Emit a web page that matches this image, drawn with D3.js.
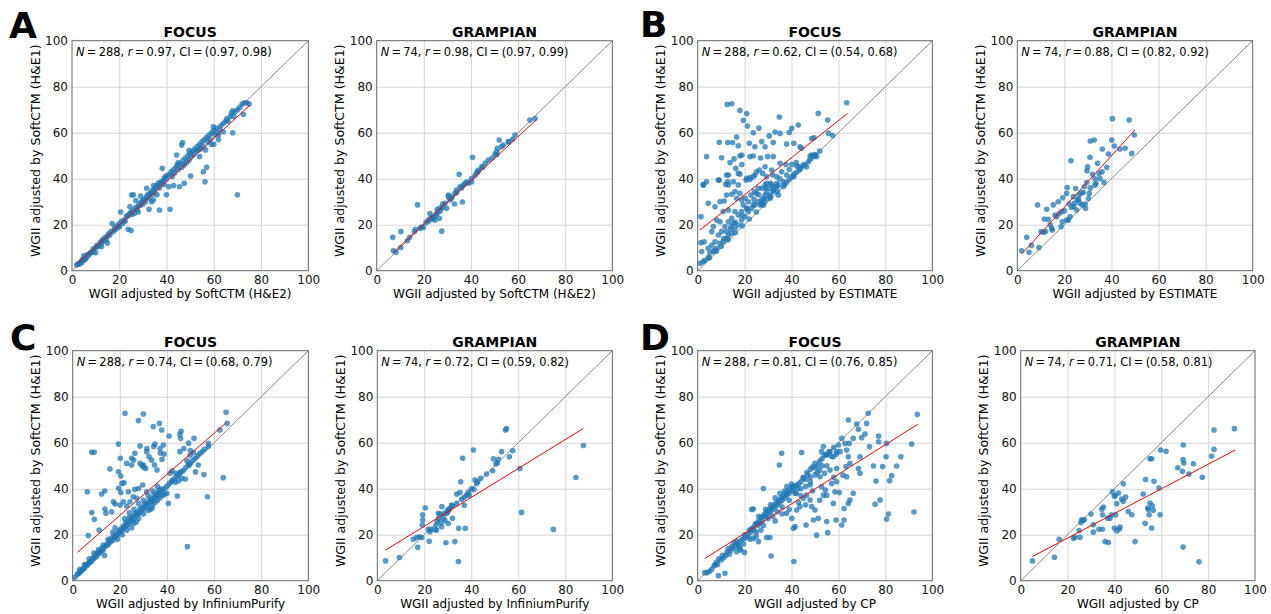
<!DOCTYPE html>
<html><head><meta charset="utf-8">
<script src="https://cdn.jsdelivr.net/npm/d3@7"></script>
<style>body{margin:0;background:#fff} svg{display:block} text{font-family:"DejaVu Sans",sans-serif}</style>
</head><body><svg id="c" width="1271" height="614"></svg>
<script>
const cohorts = ["FOCUS","GRAMPIAN"];
const methods = ["SoftCTM (H&E2)","ESTIMATE","InfiniumPurify","CP"];
const panelLetters = ["A","B","C","D"];
const yLabelText = "WGII adjusted by SoftCTM (H&E1)";
const tickValues = [0,20,40,60,80,100];
const gridValues = [20,40,60,80];
const nValues = [288,74,288,74,288,74,288,74];
const rValues = [0.97,0.98,0.62,0.88,0.74,0.72,0.81,0.71];
const ciLow = [0.97,0.97,0.54,0.82,0.68,0.59,0.76,0.58];
const ciHigh = [0.98,0.99,0.68,0.92,0.79,0.82,0.85,0.81];
// regression line end points [x1,y1,x2,y2]
const fitLines = [[2.3,3.2,75.3,72],[7.4,8.3,67.9,65.8],[1,17.7,63.9,68.4],[2.1,7.5,50,61.2],[2,12.3,65.3,68.8],[3.5,13.3,87.7,66.2],[3.1,9.7,93.8,68],[5,10.5,91.5,56.8]];

const pointsAFocus = [[2,2.5],[2.5,3],[3,2.8],[3.5,3.5],[4,4.2],[4,3.5],[4.5,5],[5,4.5],[5,6.5],[5.5,5],[6,6.2],[6,5.5],[6.5,7],[7,6.5],[7.5,7.5],[8,8],[8.5,8],[9,9.5],[9,8.5],[10,7.8],[10,10],[10.5,11],[11,10.5],[11.5,11],[12,12.5],[12.5,12],[12.5,10.5],[13,13.5],[13.5,13],[14,14.5],[14.5,13.5],[15,12],[15,15],[15.5,16],[16,15.5],
[16.5,17],[17,20.5],[17.5,17],[18,18.5],[18.5,18],[19,19.5],[19.5,19],[20,20.5],[20,19],[20.6,25.5],[21,21.5],[21.5,20.5],[22,22],[22.5,21.5],[23,23.5],[23.5,24],[23.8,18],[24,24],[24.5,25],[24.5,27.8],[25,17.5],[25,25.5],[25.2,32.9],[25.5,24.5],[26,33],[26,26.5],[26.5,25],[27,27.5],[27,30.5],[27.5,26.5],[28,28],[28,25.5],[28.5,29],[29,28.5],[29,32.5],[29.5,30],[30,30.5],[30,29],[30.5,31],[31,30],[31.6,35.8],[31.5,32],[32,33],[32.6,26.7],[32.5,31.5],[33,33.5],[33.7,30],[33.5,34],[34,35],[34,33],[34.4,30.7],[34.5,37],[35,35.5],[35,34],[35.5,36.5],[36,37],[36,33],[36.5,38],[37,26.4],[37,36],[37.5,38.5],[38,38],[38.2,44.5],[38.5,39],[39,37.5],[39,40],[39.5,41],[40,40],[40,33],[40.5,41.5],[41,36.5],[41.5,26.7],[41.5,42],
[42,43],[42.5,41],[43,44],[43,37],[43.5,42.5],[44,45],[44.3,50.3],[44.5,46],[45,44],[45,47],[45.5,36.5],[46,46.5],[46.4,54.6],[46.8,55.7],[46.5,45],[47,48],[47.5,38],[47.5,46],[48,49],[48.5,47],[49,50],[49.5,52.2],[49.5,48],[50,51],[50.2,41.2],[50.5,49.5],[51,52],[51.5,50.5],[52,53],[52.5,52],[53,54],[53.5,52.5],[54,55],[54,49.6],[54.5,53],[55,56],[55.6,43],[55.5,54],[56,57],[56.3,38.7],[56.5,52.5],[57,45],[57,58],[57.5,56],[58,59],[58.5,57],[59,60],[59,55],[59.8,62.6],[60,61],[60,55],[60.5,59],[61,62],[61.5,60],[62,57],[62,59],[62.5,61.5],[63,63],
[64,60.4],[64,64],[65,65],[65.5,66],[66,65],[67,67],[67.5,68.5],[68,69.5],[68,60],[68.5,67],[69,69],[70,33],[70,70],[71,71],[72,72.5],[72.5,68],[73,73],[74,73],[75,72.5]];

const pointsAGrampian = [[6.8,14.5],[7.1,8.7],[8.2,8],[10.3,17],[10.2,10.1],[13,13],[14,14.5],[16,17],[16.5,18],[17.3,28.6],[18.4,18.4],[19,19],[19.8,18.8],[20.9,20.9],[21.9,22],[22,21.5],[22.6,24.9],[23,23],[23.3,22.7],[24,23.5],[24,22.5],[24.8,22],[25,24],[25.5,24.9],[25.7,26.7],[26,25.5],[26.6,22.8],[26.9,27.2],[27,26],[27.6,17.2],[28,29],[28,27.5],[29,29.3],[29.7,27.1],[30.4,32.2],[30.5,32.9],[31.1,30.7],[31.5,31.4],[32,32],[33,29],[33.2,33.6],[33.9,35.1],[34,34],[35,41.9],[35.4,36.5],[36,36],[36.4,29.9],[36.8,37.2],[37.5,38],[38.2,38.7],[39,38],[40.3,38.7],[40.3,40.1],[40.7,49.3],[41.7,41.4],[42.4,42.6],[43,43],[43.1,43.8],[44.6,45.2],[45,45],[46,46.7],[47.4,48.1],[49,49],[50.2,50.7],[50.9,51.7],[51,50.5],[51.2,53.2],[52,56.8],[53,54],[53.7,54.6],[55.9,56.1],[56,56],[57.7,57.1],[58.7,59],[65,65.5],[67.2,66.2]];

const pointsBFocus = [[12.6,72.3],[14.5,72.6],[18,69.7],[20.9,68.3],[19.5,65.4],[21.2,62.9],[26.1,62],[34.8,66.8],[40.1,61.9],[42.9,63.3],[51.4,68.4],[63.5,73],[55.4,65.5],[55.7,59.7],[57.5,58.8],
[9.2,55.8],[12.8,55.7],[14.9,55.7],[17.3,54.3],[16.6,58.1],[23.7,60],[30.5,58.6],[33,60.3],[35.1,59.7],[39,60.1],[41,55.4],[37.9,55.1],[32.2,55.7],[27.3,56.1],[24.4,53.9],[22,55.4],[28.7,53.9],[43.6,53.9],[44.3,53.2],[48.6,57.5],[49.6,57.8],
[3.8,49.6],[10.2,49.1],[13.8,47],[15.5,48.6],[18,49.9],[18.8,50.3],[22.3,49.6],[23.7,49.9],[26.8,49],[29.8,49.6],[32.2,49.6],[28.7,45.2],[31.5,43.8],[35.1,46.7],[37.6,46.2],[40.1,46.2],[42.2,45.5],[43.3,45.2],[45.7,46.2],[47.9,49.9],[48.6,50.3],[50,50.1],[50.7,49.6],
[9.2,39.4],[12.8,38.7],[2.4,37.2],[3.8,38.7],[13.1,41.6],[16.2,44.5],[18.8,46.2],[18,42],[20.6,39.4],[22.3,39.7],[23.7,40.9],[25.1,43],[26.3,43.8],[27.7,42.3],[29.4,40.9],[32,41.6],[33.7,40.9],[35.8,43],[36.5,38.7],[37.9,41.6],[34.4,37.2],
[1,3.2],[2.4,3.9],[1.7,8.3],[1.4,12.2],[2.8,12.6],[4.5,9.7],[5.2,7.6],[4.5,5.7],[6.7,8.3],[8.1,9.7],[9.5,11.9],[10.9,12.6],[12.3,14.1],[13.1,15.5],[14.5,16.3],[15.9,18.4],[17.3,19.9],[18.7,22],[20.2,23.5],[21.6,25.7],[23,27.1],[24.4,28.6],[25.8,30],[27.3,30.7],[28.7,32.9],[29.4,34.4],
[1.4,23.5],[2.4,37.6],[4.5,29.3],[8.8,39.4],[12.3,41.6],[11.9,37.6],[7.4,27.8],[9.5,30],[11.3,30.3],[12.3,32.9],[14.5,33.2],[15.9,34.4],[16.6,31.5],[18,33.6],[17.3,37.3],[17.3,42.3],[20.9,40.2],[22.3,40.5],[24.4,41.6],[22.7,32.9],[24.1,34.4],[25.1,33.6],[25.8,35.8],[27.3,35.8],[28.7,37.3],[29.4,38],[30.8,35.8],[31.5,37.3],[32.2,35.1],[32.9,36.5],[33.7,38],[34.4,32.9],[30.8,32.9],[28,31.5],[26.6,28.6],[23.7,28.6],[21.6,30],[20.9,27.1],[19.4,28.6],[18.7,25.7],[17.3,24.2],[15.9,25.7],[14.5,22.8],[13.1,21.3],[11.6,19.2],[10.2,17],[8.8,15.5],[7.4,12.6],[6,11.2],[14.2,19.2],[12.3,17],[15.2,20.6],[20.2,31.5],[18.7,30.7],[13.1,26.4],[10.9,25.7],[8.1,22],[9.5,21.3],[6.7,19.2],[6,17],[13.1,37.3],[15.2,38.7],
[36.5,36.5],[37.9,38.3],[39,39.7],[40.1,40.9],[41,42],[42.2,42.8],[43.3,43.8],[45,45.9],[46.4,45.2],[33.7,36.5],[32.2,34.3],[30.8,32.2],[29.4,31.2],[28.3,30],[27.3,29],[47.2,47.4],[49.3,49.6],
[5,5.5],[8,8.5],[10,10.5],[13,13.5],[16,16.5],[19,19.5],[22,22.5],[25,25.5],[28,28.5],[31,31.5],[34,34.5],[37,37.5],[41,41],[44,44.5],[48,48.5],[50,50.5],[52,52],[3,4.5],[7,9],[11,14],[14,18],[16,21],[19,24],[21,27],[24,31],[26,33],[29,36],[31,38],[35,40],[39,44],[42,47]];

const pointsBGrampian = [[1.8,8.7],[4,14.5],[5,8],[6,11],[8.6,28.6],[9.2,10.1],[10.1,17],[11,16.7],[11.5,22.5],[12,17],[12.5,26.7],[13.2,22.3],[14,20],[14.6,18.4],[14.9,17.7],[15.3,28.6],[16,24.2],[16.7,23.5],[17.4,30],[17.8,24.9],[18.6,19.1],[18.8,25.7],[19.1,21.3],[19.3,31.7],[20,26],[21,33.6],[21,22],[21.2,36.2],[21.7,22],[22,29],[22.4,23.5],[22.8,47.8],[23.1,27.5],[23.8,32.2],[24,28],[24.2,29.3],[24.8,35.7],[25.2,26.4],[25.6,30.7],[26,31],[26.2,32.9],[26.6,29.3],[27.3,33.9],[27.6,28.6],[28,34],[28.5,36.5],[28.8,29],[29,27.1],[29.5,38.3],[29.6,43.5],[29.9,45.2],[30.2,31.4],[30.6,33.6],[30.9,49.3],[31,56.4],[31,36],[32,41.9],[32.7,56.8],[33,37.2],[33,40],[33.4,38],[34.1,46.7],[34.7,42.3],[35.1,40.1],[36,43],[36.1,52.9],[36.8,38.4],[38,45],[38.7,50.7],[40.1,56.8],[40.4,66.1],[41.2,54.2],[43.6,52.9],[45.8,53.2],[47.5,65.5],[48.6,51],[49.7,59]];

const pointsCFocus = [[22.2,72.8],[30,72.5],[27.9,69.6],[36.8,68.4],[34.2,67],[37.8,65.5],[65.1,73.2],[65.6,68.4],[62.5,65.5],[40.9,62.9],[45.5,63.6],[45.8,61.9],[46,65],[51.5,61.9],[57.6,59.7],[57.6,58.3],[19.4,59.4],[8.1,55.8],[9.1,55.8],[28.6,58.6],[31.4,56.1],[32.4,53.9],[33.5,52.5],[26.4,55.4],[25,53.2],[22.9,51],[15.8,48.6],[19.4,47.4],[20.4,45.5],[21.8,42.6],[25,50.3],[28.6,51],[30,50.3],[31,48.8],[34.7,50.3],[35.8,48.1],[37.9,52.8],[38.8,55.1],[37.1,57.5],[38.5,59],[34.9,59.4],[41.3,46.7],[43.8,46.7],[46.3,44.5],[45.5,56.1],[47.2,57.5],[49.8,54.6],[51.2,55.7],[49.5,50.3],[53.3,50.3],[55.7,46.2],[57.2,36.5],[63.9,44.8],[44.4,36.8],[40.6,33.6],[48.7,14.8],[6.2,38.7],[12.3,37.7],[13.6,39],[8.1,29.6],[9.2,26.7],[6.6,19.6],[11.2,22],[13.7,31.2],[14.1,29.3],[17.3,34.3],[18,33.3],[16.5,30],[20.4,38.3],[23.6,38.7],[26.4,39.7],[27.9,40.1],[29.7,41.6],[31.4,38.7],[20.1,32.9],[21.5,34.3],[22.9,32.5],[24.3,34.3],[25.7,36.5],[27.2,35.8],
[20.2,53.2],[19.5,40.2],[20.9,42.3],[25.9,52.5],[29.4,50.1],[30.1,49.4],[31.5,57.5],[34.4,58.4],[37.2,55.5],[42.2,47.8],[47.8,44.2],[52.1,47.3],[42.2,43.5],[43.6,42.8],[45,43.5],[45.7,47.1],[48.5,52.2],[49.9,56.6],[49.2,59.8],[33.7,31.6],
[1,1.5],[2,2.8],[2.5,3.2],[3,3.6],[3.5,4.2],[4,4.6],[4.5,5.3],[5,5.4],[5.5,6.9],[6,6.5],[6.5,7.3],[7,7.9],[7.5,8.2],[8,8.4],[8.5,9.8],[9,9.6],[9.5,10.8],[10,10.4],[10.5,12.2],[11,11.6],[11.5,12.3],[12,12.9],[12.5,14.3],[13,13.4],[13.5,11],[14,15.1],[14.5,15.8],[15,15.6],[15.5,17.2],[16,16.8],[16.5,18.4],[17,17.6],[17.5,19.3],[18,18.9],[18.5,20.3],[19,19.8],[19.5,21.7],[20,21.1],[20.5,22.6],[21,21.9],[21.5,23.8],[22,23.2],[22.5,25.3],[23,24.1],[23.5,25.7],[24,24.9],[24.5,26.8],[25,26.2],[25.5,28.1],[26,27.1],[26.5,29.2],[27,28.3],[27.5,29.7],[28,29.1],[28.5,31.2],[29,30.2],[29.5,31.8],[30,31.1],[30.5,33.2],[31,32.3],[31.5,33.8],[32,33.1],[32.5,35.3],[33,34.2],[33.5,35.7],[34,35.1],[34.5,37.2],[35,36.3],[35.5,37.9],[36,37.2],[36.5,39.1],[37,38.2],[37.5,39.8],[38,39.3],[39,40.2],[40,41.1],[41,42.3],[42,43.1],[43,44.2],[44,45.4],[45,46.1],[46,47.3],[47,47.9],[48,49.2],[49,50.4],[50,51.1],[51,52.4],[52,53.2],[53,54.3],[54,55.4],[55,56.2],[56,57.1],
[24,27.5],[26,25],[28,27],[30,29],[32,30.5],[33,31],[34,33],[35,34],[36,35],[37,36],[38,37],[39,37.5],[40,38],[25,23],[27,25.5],[23,22],[21,20],[19,18],[3,5],[5,7],[7,9.5],[9,12],[11,13.5],[13,15.5],[15,18],[17,21],[18,23],[22,27],[24,29.5],[26,31],[28,33.5],[30,35],[32,37],[34,39],[36,41]];

const pointsCGrampian = [[3.5,8.6],[9.4,10.1],[15.3,18],[16.7,18.8],[17.2,14.5],[17.9,19.1],[18.9,18.8],[19.1,24.2],[19.3,26.4],[19.3,28.6],[20.4,31.7],[21.7,22.3],[22.1,17.1],[22.4,21.3],[22.8,22.3],[24.5,22.3],[25,24.2],[25.2,22],[25.5,25.7],[26,27.1],[26,29.3],[26.7,29],[27,25.2],[27.4,23.5],[27.5,32.2],[28.1,27.1],[28.4,29.3],[28.8,26.1],[29.2,16.5],[29.5,29.3],[29.9,30.7],[30,30],[30.2,24.9],[30.6,31],[30.9,31.4],[31.6,32.9],[32,27.1],[32,32.5],[33,17],[33.8,33.6],[33.8,37.7],[34.5,8.3],[34.6,22.8],[35.2,38.3],[35.5,43],[35.9,35.4],[36.3,53.2],[36.9,36.2],[37,32.8],[37.4,22.8],[38,37.2],[38.7,38.4],[39.1,37.2],[40,40],[40.9,56.8],[41.1,39.7],[41.6,43.8],[42.3,42.3],[42.7,43],[44,44.5],[46.5,46.4],[49.1,47.8],[49.4,53],[50.5,50.7],[51.1,51.3],[51.5,52.8],[52.9,56.1],[54.5,65.5],[55,66.1],[56.2,53.9],[57.6,56.5],[60.7,48.8],[61.4,29.7],[74.9,22.3],[84.5,44.9],[87.7,58.8]];

const pointsDFocus = [[93.6,72.3],[91.2,59.4],[92.2,29.9],[86.6,53.9],[84.8,49.9],[82.7,45.7],[81.8,43.5],[81.3,29],[80.5,26.8],[80.3,53.9],[80.5,59.7],[78.8,49.6],[77.7,35.1],[76,43.3],[75.6,33.2],[74.9,49.9],[77.1,62.9],[77.1,60.4],[73.2,58.3],[72.7,72.8],[72,68.4],[71.3,63.8],[69.9,62.2],[68.5,65.8],[67.8,68.1],[64.2,69.9],[64.6,59.7],[66.3,61.9],[69.2,53.9],[68.5,48.8],[69.2,46.7],[66.3,38],[64.2,33.6],[64.9,35.1],[62.4,31.4],[62.4,26.4],[61.4,24.2],[60.4,38.3],[58.5,38.7],[59,26.4],[57.8,33.6],[55,25.7],[55.4,20.9],[50.7,19.8],[51.4,27.1],[49.3,26.4],[46.2,24.2],[41.5,23.5],[40.8,22.8],[41,8.3],[31.3,10.7],[37.9,29.3],[40.1,27.1],[42.2,30.7],[43.6,32.2],[45,35.8],[46.4,37.2],[47.9,35.1],[48.6,32.2],[50,30.7],[47.9,41.6],[45,44.5],[44.3,55.7],[52.8,56.1],[53.6,58.3],[55,54.6],[56.4,56.1],[57.8,53.9],[59.2,56.1],[60.7,56.1],[61.4,61.9],[62.8,59.7],[63.5,56.8],[64.2,53.9],[64.9,51],[63.2,49.6],[61.9,45.9],[59.2,48.8],[56.4,48.1],[54.1,46.7],[52.1,45.2],[52.8,40.9],[54.4,39.4],[53.6,37.2],[55,37.2],[57.1,42.3],[59.2,43],[63.5,45.2],[34.8,50.3],[35.8,55.4],[28,40.1],[23,31],[23.7,31.2],[16.6,12.6],[8.8,2.2],[11.6,3.2],[18.3,13.3],[19.9,12.3],[22.3,18],[23.7,18.4],[24.9,19.1],[25.9,17],[29.4,18.8],[30.8,18.8],
[3,3.5],[4,3.5],[5,4],[6,5],[7,6.5],[7.5,7],[8,8],[8.5,7],[9,9.5],[10,9],[10.5,11],[11,10],[12,11],[12.5,12.5],[13,14],[13.5,11.5],[14,13],[14.5,15],[15,14],[15.5,16.5],[16,15],[16.5,17],[17,16],[17.5,15],[18,17],[18,14],[19,18],[19.5,16],[20,18.5],[20,20],[21,20],[21.5,19],[22,22],[22.5,21],[23,22.5],[23.5,23],[24,22],[24.5,24.5],[25,25],[25,21],[25.5,24],[26,26],[26.5,25],[27,27.5],[27.5,26],[28,28],[28,24],[28.5,29],[29,28],[29.5,30],[30,29],[30,27],[30.5,31],[31,30],[31.5,32],[32,31],[32,28],[32.5,33],[33,32],[33.5,34],[34,33],[34,30],[34.5,35],[35,34],[35.5,36],[36,35],[36,32],[36.5,37],[37,36],[37.5,38],[38,37],[38.5,39],[39,38],[39,35],[39.5,40],[40,39],[40.5,41],[41,40],[41.5,38],[42,41.5],[42.5,40],[43,42],[44,43],[44,40],[45,45],[46,44],[46.5,47],[47,46],[48,48.5],[48,45],[49,49.5],[50,49],[50,51],[51,50],[52,52],[52,48],[53,53],[54,54.5],[55,55],[55,50],[56,56],[57,54],[58,58],[59,55],[60,59],
[26,28],[29,31],[31,33],[33,36],[35,38],[37,39],[38,41],[40,42],[42,38],[44,37],[46,41],[48,43],[50,46],[51,47],[53,50],[27,22],[33,26],[36,29],[39,31],[43,34],[46,33],[49,39],[52,35],[58,45]];

const pointsDGrampian = [[5,8.6],[14.4,10.2],[16.4,18],[22.5,18.5],[23.2,18.9],[25.3,18.9],[24.9,21.8],[25.7,25.3],[26,26.5],[26.5,26.2],[27.2,26.5],[30,29],[31,24.3],[31,21.1],[33.4,22.4],[34.6,31.1],[35.3,32],[34.9,28.7],[34.9,22.4],[36,17],[37.4,16.6],[37.1,27.2],[38.1,27.2],[38.8,28.7],[39.1,38.6],[40,36.7],[40.3,37],[40,22.9],[40.5,28.7],[41,21.7],[41.7,38.1],[41,33.5],[42,22.4],[42.4,23.3],[43.1,35.5],[43.8,42.1],[43.8,34.5],[44.8,36.4],[45.9,30.1],[47.4,28.7],[48.8,17],[52.3,37.7],[53.1,25],[53.3,44],[54.2,31.6],[54.5,30.9],[54.8,28.7],[55.2,53],[55.9,53],[55.2,33.8],[56.2,32.6],[55.9,22.9],[56.6,30.6],[56.9,43.2],[59,40.3],[59.5,28.7],[59.7,56.8],[62,56.3],[67,49.1],[69,47.6],[69.3,52.7],[69.4,59],[69.6,51.2],[69.3,14.6],[71.8,46.4],[73.7,50.8],[76.1,8.2],[77.5,45],[81.5,54.1],[82.5,57.1],[82.5,65.5],[91.2,66.1]];

const panelPoints = [pointsAFocus,pointsAGrampian,pointsBFocus,pointsBGrampian,pointsCFocus,pointsCGrampian,pointsDFocus,pointsDGrampian];

// layout (pixel frames of each axes)
const frames = [
  [72,308.3,40.7,270.7],[376.7,612.3,40.7,270.7],[697.7,932.3,40.7,270.7],[1017.3,1252.7,40.7,270.7],
  [72.7,308.3,350.7,580.7],[377.3,612.3,350.7,580.7],[697.7,932.3,350.7,580.7],[1020.7,1255,350.7,580.7]
];
const letterPos = [[9,38],[640,37],[10,350],[640,350]];

const svg = d3.select("#c");
svg.append("rect").attr("width",1271).attr("height",614).attr("fill","#fff");

panelPoints.forEach((pts,i)=>{
  const [l,r,t,b] = frames[i];
  const x = d3.scaleLinear().domain([0,100]).range([l,r]);
  const y = d3.scaleLinear().domain([0,100]).range([b,t]);
  const g = svg.append("g");
  g.append("g").attr("transform",`translate(0,${b})`)
    .call(d3.axisBottom(x).tickValues(gridValues).tickSize(-(b-t)).tickFormat(""))
    .call(s=>{s.select(".domain").remove(); s.selectAll("line").attr("stroke","#d6d6d6").attr("stroke-width",1);});
  g.append("g").attr("transform",`translate(${l},0)`)
    .call(d3.axisLeft(y).tickValues(gridValues).tickSize(-(r-l)).tickFormat(""))
    .call(s=>{s.select(".domain").remove(); s.selectAll("line").attr("stroke","#d6d6d6").attr("stroke-width",1);});
  g.append("line").attr("x1",x(0)).attr("y1",y(0)).attr("x2",x(100)).attr("y2",y(100))
    .attr("stroke","#8c8c8c").attr("stroke-width",1);
  g.append("g").selectAll("circle").data(pts).join("circle")
    .attr("cx",d=>x(d[0])).attr("cy",d=>y(d[1])).attr("r",2.8)
    .attr("fill","#1f77b4").attr("fill-opacity",0.75);
  const f = fitLines[i];
  g.append("line").attr("x1",x(f[0])).attr("y1",y(f[1])).attr("x2",x(f[2])).attr("y2",y(f[3]))
    .attr("stroke","#ff0000").attr("stroke-width",1);
  g.append("rect").attr("x",l).attr("y",t).attr("width",r-l).attr("height",b-t)
    .attr("fill","none").attr("stroke","#666").attr("stroke-width",1);
  g.append("g").attr("transform",`translate(0,${b})`)
    .call(d3.axisBottom(x).tickValues(tickValues).tickSize(0).tickPadding(5))
    .call(s=>{s.select(".domain").remove(); s.selectAll("text").attr("font-size","12px").attr("fill","#111").style("font-family","DejaVu Sans");});
  g.append("g").attr("transform",`translate(${l},0)`)
    .call(d3.axisLeft(y).tickValues(tickValues).tickSize(0).tickPadding(4))
    .call(s=>{s.select(".domain").remove(); s.selectAll("text").attr("font-size","12px").attr("fill","#111").style("font-family","DejaVu Sans");});
  g.append("text").attr("x",(l+r)/2).attr("y",t-3.5).attr("text-anchor","middle")
    .attr("font-size","14px").attr("font-weight","bold").attr("fill","#000").text(cohorts[i%2]);
  // annotation (math-style thin spaces around "="), sized to its width in the picture
  const ann = g.append("text").attr("x",l+4).attr("y",t+15.5).attr("font-size","12px").attr("fill","#000");
  const ts = "\u2009=\u2009";
  ann.append("tspan").attr("font-style","italic").text("N");
  ann.append("tspan").text(`${ts}${nValues[i]}, `);
  ann.append("tspan").attr("font-style","italic").text("r");
  ann.append("tspan").text(`${ts}${rValues[i].toFixed(2)}, CI${ts}(${ciLow[i].toFixed(2)}, ${ciHigh[i].toFixed(2)})`);
  const target = (i%2===0) ? 196 : 188;
  const w = ann.node().getComputedTextLength();
  if (w > 0) ann.attr("font-size", (12*target/w).toFixed(2)+"px");
  g.append("text").attr("x",(l+r)/2).attr("y",b+27).attr("text-anchor","middle")
    .attr("font-size","12px").attr("fill","#000").text("WGII adjusted by "+methods[Math.floor(i/2)]);
  g.append("text").attr("transform",`translate(${l-32.5},${(t+b)/2-5}) rotate(-90)`).attr("text-anchor","middle")
    .attr("font-size","12.6px").attr("fill","#000").text(yLabelText);
});

panelLetters.forEach((L,k)=>{
  svg.append("text").attr("x",letterPos[k][0]).attr("y",letterPos[k][1])
    .attr("font-size","36px").attr("font-weight","bold").attr("fill","#000").text(L);
});
</script></body></html>
